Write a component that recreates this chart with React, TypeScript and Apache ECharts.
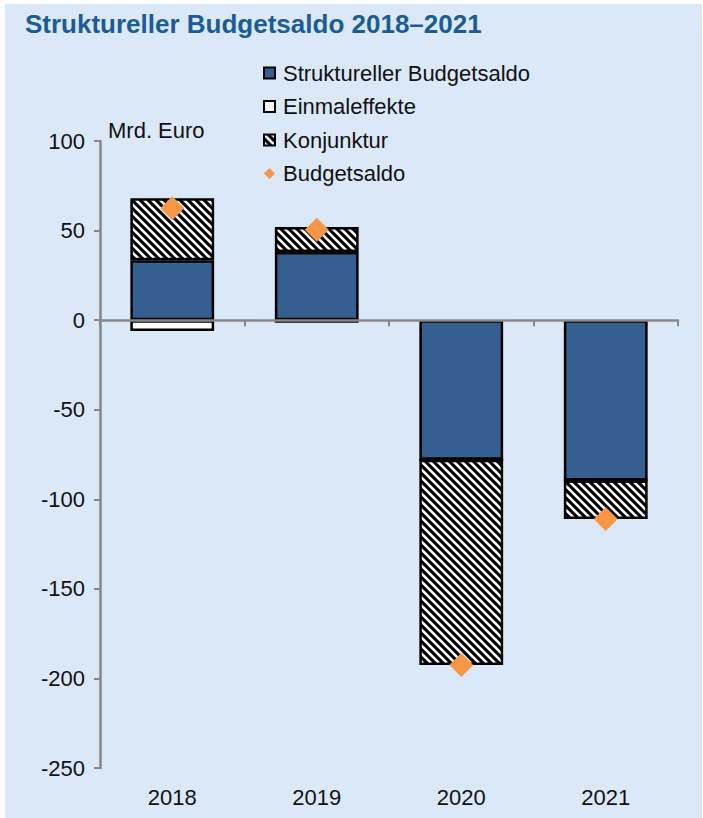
import React, { useEffect, useRef } from 'react';
import * as echarts from 'echarts';

const years = ['2018', '2019', '2020', '2021'];
const strukturell = [33.5, 38, -78, -89.5];
const einmaleffekte = [-6, -1.5, 0, 0];
const konjunktur = [34.5, 14, -114.5, -21.5];
const budgetsaldo = [62.5, 50.5, -192.5, -111];
const yMin = -250;
const yMax = 100;
const yStep = 50;

const FONT = '"Liberation Sans", Arial, sans-serif';

function makeHatch(): HTMLCanvasElement {
  const c = document.createElement('canvas');
  c.width = 8;
  c.height = 8;
  const ctx = c.getContext('2d')!;
  ctx.fillStyle = '#000';
  ctx.fillRect(0, 0, 8, 8);
  ctx.strokeStyle = '#fff';
  ctx.lineWidth = 2.6;
  for (let k = -1; k <= 1; k++) {
    ctx.beginPath();
    ctx.moveTo(-2, -2 + k * 8);
    ctx.lineTo(10, 10 + k * 8);
    ctx.stroke();
  }
  return c;
}

export default function App() {
  const ref = useRef<HTMLDivElement>(null);
  useEffect(() => {
    if (!ref.current) return;
    const chart = echarts.init(ref.current, null, { renderer: 'svg' });
    const hatch = makeHatch();
    const barStyle = { borderColor: '#000', borderWidth: 2.5 };
    chart.setOption({
      animation: false,
      backgroundColor: '#ffffff',
      textStyle: { fontFamily: FONT },
      graphic: [
        { type: 'rect', z: -10, shape: { x: 5, y: 4, width: 697, height: 814 }, style: { fill: '#DBE8F7' } },
        { type: 'text', left: 108, top: 119, style: { text: 'Mrd. Euro', font: '22px ' + FONT, fill: '#111' } },
      ],
      title: {
        text: 'Struktureller Budgetsaldo 2018–2021',
        left: 20,
        top: 6,
        textStyle: { fontSize: 26, fontWeight: 'bold', color: '#1B5C96', fontFamily: FONT },
      },
      legend: {
        orient: 'vertical',
        left: 258,
        top: 56,
        itemWidth: 11,
        itemHeight: 11,
        itemGap: 9.5,
        textStyle: { fontSize: 22, color: '#111', fontFamily: FONT, lineHeight: 24, padding: [0, 0, 0, 3] },
        data: [
          { name: 'Struktureller Budgetsaldo', icon: 'rect' },
          { name: 'Einmaleffekte', icon: 'rect' },
          { name: 'Konjunktur', icon: 'rect' },
          { name: 'Budgetsaldo', icon: 'diamond' },
        ],
      },
      grid: { left: 100, right: 25, top: 141, bottom: 50, containLabel: false },
      xAxis: [
        {
          type: 'category',
          data: years,
          position: 'bottom',
          axisLine: { show: false, onZero: false },
          axisTick: { show: false },
          axisLabel: { fontSize: 22, color: '#111', margin: 18, fontFamily: FONT },
        },
        {
          type: 'category',
          data: years,
          position: 'top',
          z: 5,
          axisLine: { show: true, onZero: true, lineStyle: { color: '#878787', width: 2.5 } },
          axisTick: { show: true, inside: true, length: 6, lineStyle: { color: '#878787', width: 2 } },
          axisLabel: { show: false },
        },
      ],
      yAxis: {
        type: 'value',
        min: yMin,
        max: yMax,
        interval: yStep,
        splitLine: { show: false },
        axisLine: { show: true, lineStyle: { color: '#878787', width: 2.5 } },
        axisTick: { show: true, length: 6, lineStyle: { color: '#878787', width: 2 } },
        axisLabel: { fontSize: 22, color: '#111', margin: 15, fontFamily: FONT },
      },
      series: [
        {
          name: 'Struktureller Budgetsaldo',
          type: 'bar',
          stack: 'total',
          xAxisIndex: 0,
          barWidth: '58%',
          data: strukturell,
          itemStyle: { color: '#355F90', ...barStyle },
        },
        {
          name: 'Einmaleffekte',
          type: 'bar',
          stack: 'total',
          xAxisIndex: 0,
          barWidth: '58%',
          data: einmaleffekte,
          itemStyle: { color: '#ffffff', ...barStyle },
        },
        {
          name: 'Konjunktur',
          type: 'bar',
          stack: 'total',
          xAxisIndex: 0,
          barWidth: '58%',
          data: konjunktur,
          itemStyle: {
            color: { image: hatch, repeat: 'repeat', imageWidth: 8, imageHeight: 8 },
            ...barStyle,
          },
        },
        {
          name: 'Budgetsaldo',
          type: 'scatter',
          xAxisIndex: 0,
          symbol: 'diamond',
          symbolSize: 24,
          z: 10,
          data: budgetsaldo,
          itemStyle: { color: '#F79646', opacity: 1 },
        },
      ],
    });
    return () => chart.dispose();
  }, []);
  return (
    <div
      ref={ref}
      style={{ position: 'absolute', left: 0, top: 0, width: 703, height: 818 }}
    />
  );
}
